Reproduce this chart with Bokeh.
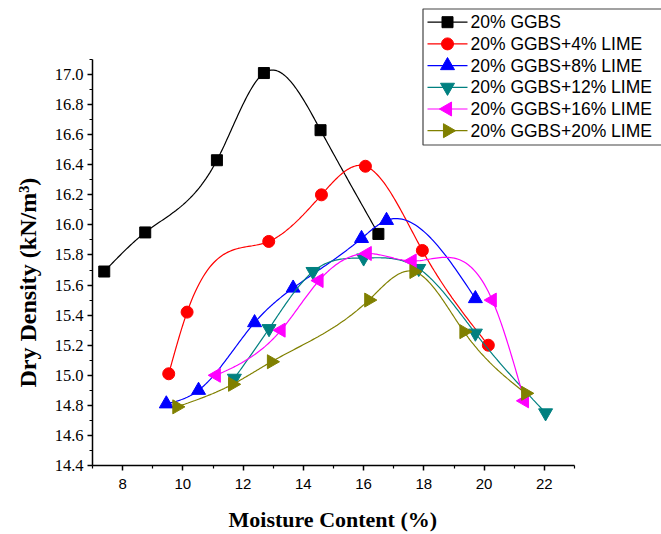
import numpy as np
from bokeh.plotting import figure
from bokeh.models import Range1d, FixedTicker, PrintfTickFormatter, Title
from bokeh.core.properties import value
from bokeh.embed import file_html
from bokeh.resources import INLINE

# ---- data ----
x_ggbs = [7.39, 8.75, 11.13, 12.69, 14.57, 16.49]
y_ggbs = [15.69, 15.95, 16.43, 17.01, 16.63, 15.94]

x_l4 = [9.53, 10.14, 12.85, 14.60, 16.06, 17.95, 20.14]
y_l4 = [15.01, 15.42, 15.89, 16.20, 16.39, 15.83, 15.20]

x_l8 = [9.45, 10.52, 12.38, 13.66, 15.93, 16.76, 19.71]
y_l8 = [14.81, 14.90, 15.35, 15.58, 15.91, 16.03, 15.51]

x_l12 = [11.71, 12.86, 14.32, 16.00, 17.83, 19.71, 22.04]
y_l12 = [14.98, 15.31, 15.69, 15.78, 15.71, 15.28, 14.75]

x_l16 = [11.11, 13.26, 14.52, 16.12, 17.61, 20.27, 21.34]
y_l16 = [15.00, 15.30, 15.63, 15.81, 15.76, 15.50, 14.83]

x_l20 = [9.80, 11.65, 12.94, 16.17, 17.67, 19.33, 21.38]
y_l20 = [14.79, 14.94, 15.09, 15.50, 15.69, 15.29, 14.88]

labels = ["20% GGBS", "20% GGBS+4% LIME", "20% GGBS+8% LIME",
          "20% GGBS+12% LIME", "20% GGBS+16% LIME", "20% GGBS+20% LIME"]

x_ticks = [8, 10, 12, 14, 16, 18, 20, 22]
x_minor = [7, 9, 11, 13, 15, 17, 19, 21, 23]
y_ticks = [14.4, 14.6, 14.8, 15.0, 15.2, 15.4, 15.6, 15.8, 16.0, 16.2, 16.4, 16.6, 16.8, 17.0]
y_minor = [14.5, 14.7, 14.9, 15.1, 15.3, 15.5, 15.7, 15.9, 16.1, 16.3, 16.5, 16.7, 16.9, 17.1]
x_axis_span = (7, 23)
y_axis_span = (14.4, 17.1)
x_title = "Moisture Content (%)"
y_title = "Dry Density (kN/m\u00b3)"


def natural_spline(x, y, n=40):
    x = np.asarray(x, float)
    y = np.asarray(y, float)
    N = len(x)
    h = np.diff(x)
    A = np.zeros((N, N))
    r = np.zeros(N)
    A[0, 0] = 1
    A[-1, -1] = 1
    for i in range(1, N - 1):
        A[i, i - 1] = h[i - 1]
        A[i, i] = 2 * (h[i - 1] + h[i])
        A[i, i + 1] = h[i]
        r[i] = 3 * ((y[i + 1] - y[i]) / h[i] - (y[i] - y[i - 1]) / h[i - 1])
    c = np.linalg.solve(A, r)
    xs, ys = [], []
    for i in range(N - 1):
        b = (y[i + 1] - y[i]) / h[i] - h[i] * (2 * c[i] + c[i + 1]) / 3
        d = (c[i + 1] - c[i]) / (3 * h[i])
        t = np.linspace(0, h[i], n, endpoint=False)
        xs.extend(x[i] + t)
        ys.extend(y[i] + b * t + c[i] * t ** 2 + d * t ** 3)
    xs.append(x[-1])
    ys.append(y[-1])
    return xs, ys


# frame: left 92 .. right 661 (axis drawn only 92..574), top 0 .. bottom 465 (axis 465..59)
W, H = 661, 534
left, right_axis, top_axis, bottom = 92, 574, 59, 465
xppu = (right_axis - left) / (x_axis_span[1] - x_axis_span[0])
yppu = (bottom - top_axis) / (y_axis_span[1] - y_axis_span[0])
x_end = x_axis_span[1] + (W - right_axis) / xppu
y_end = y_axis_span[1] + top_axis / yppu


def px2x(px):
    return x_axis_span[0] + (px - left) / xppu


def py2y(py):
    return y_axis_span[0] + (bottom - py) / yppu


p = figure(width=W, height=H, x_range=Range1d(x_axis_span[0], x_end),
           y_range=Range1d(y_axis_span[0], y_end),
           output_backend="svg", toolbar_location=None,
           min_border_left=left, min_border_right=0, min_border_top=0,
           min_border_bottom=H - bottom)
p.outline_line_color = None
p.xgrid.visible = False
p.ygrid.visible = False
p.background_fill_color = "white"
p.border_fill_color = "white"

series = [
    (x_ggbs, y_ggbs, "black", "square", 0.0, 11),
    (x_l4, y_l4, "#FF0000", "circle", 0.0, 12),
    (x_l8, y_l8, "#0000FF", "triangle", 0.0, 14),
    (x_l12, y_l12, "#008080", "inverted_triangle", 0.0, 14),
    (x_l16, y_l16, "#FF00FF", "triangle", np.pi / 2, 14),
    (x_l20, y_l20, "#808000", "triangle", -np.pi / 2, 14),
]

for xs, ys, col, mk, ang, sz in series:
    sx, sy = natural_spline(xs, ys)
    p.line(sx, sy, line_color=col, line_width=1.2)
    p.scatter(xs, ys, marker=mk, angle=ang, size=sz, fill_color=col, line_color=col)

# ---- legend (drawn by hand so the rotated triangles show) ----
box_l, box_t, box_b, box_r = 422.5, 8.5, 144.5, 700
row0, row_pitch = 21.7, 21.7
p.quad(left=[px2x(box_l)], right=[px2x(box_r)], top=[py2y(box_t)], bottom=[py2y(box_b)],
       fill_color="white", line_color="#444444", line_width=1.2, level="overlay")
for i, ((xs, ys, col, mk, ang, sz), lab) in enumerate(zip(series, labels)):
    yy = py2y(row0 + i * row_pitch)
    p.segment(x0=[px2x(427)], y0=[yy], x1=[px2x(467)], y1=[yy],
              line_color=col, line_width=1.2, level="overlay")
    p.scatter([px2x(447)], [yy], marker=mk, angle=ang, size=sz,
              fill_color=col, line_color=col, level="overlay")
    p.text([px2x(470)], [yy], text=[lab], text_font=value("Liberation Sans"),
           text_font_size=value("17.5px"), text_baseline="middle", text_align="left",
           text_color="black", level="overlay")

# axes
for ax in (p.xaxis[0], p.yaxis[0]):
    ax.axis_line_width = 1.5
    ax.major_tick_line_width = 1.5
    ax.minor_tick_line_width = 1.2
    ax.major_tick_out = 5
    ax.major_tick_in = 0
    ax.minor_tick_out = 3
    ax.minor_tick_in = 0
    ax.major_label_text_color = "black"

p.xaxis[0].bounds = x_axis_span
p.yaxis[0].bounds = y_axis_span
p.xaxis[0].ticker = FixedTicker(ticks=x_ticks, minor_ticks=x_minor)
p.yaxis[0].ticker = FixedTicker(ticks=y_ticks, minor_ticks=y_minor)
p.yaxis[0].formatter = PrintfTickFormatter(format="%.1f")
p.xaxis[0].major_label_text_font = "Liberation Sans"
p.xaxis[0].major_label_text_font_size = "15px"
p.xaxis[0].major_label_standoff = 8
p.yaxis[0].major_label_text_font = "Liberation Serif"
p.yaxis[0].major_label_text_font_size = "16.5px"
p.yaxis[0].major_label_standoff = 4

# axis titles as Title annotations so they can be placed along the axis span
gap = Title(text=" ", standoff=10, text_font_size="1px", text_color="white")
p.add_layout(gap, "below")
tx = Title(text=x_title, align="left", offset=228 - left, standoff=0,
           text_font="Liberation Serif", text_font_style="bold", text_font_size="22px",
           text_color="black")
p.add_layout(tx, "below")
ty = Title(text=y_title, align="left", offset=bottom - 387, standoff=22,
           text_font="Liberation Serif", text_font_style="bold", text_font_size="24px",
           text_color="black")
p.add_layout(ty, "left")

open("out.html", "w").write(file_html(p, INLINE))
